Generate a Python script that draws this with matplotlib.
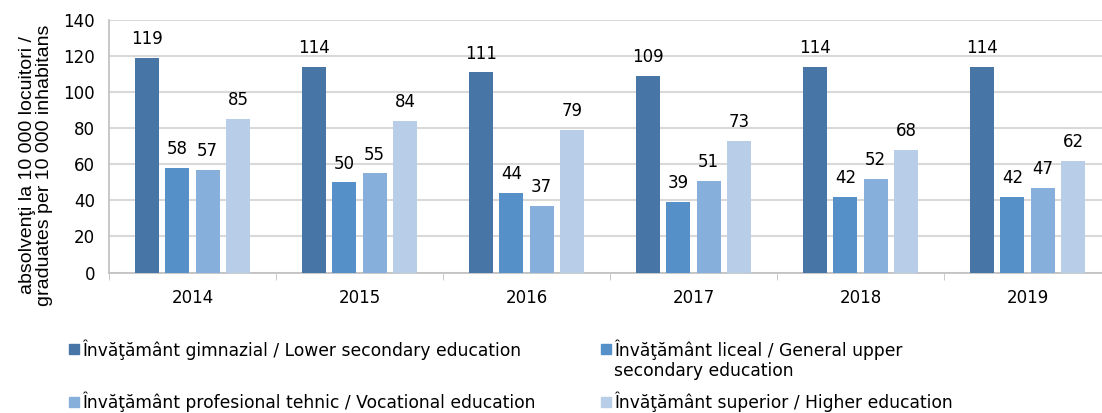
import numpy as np
import matplotlib.pyplot as plt
from matplotlib.patches import Rectangle

plt.rcParams['font.family'] = ['DejaVu Sans']

years = ['2014', '2015', '2016', '2017', '2018', '2019']
gimnazial = [119, 114, 111, 109, 114, 114]
liceal = [58, 50, 44, 39, 42, 42]
profesional = [57, 55, 37, 51, 52, 47]
superior = [85, 84, 79, 73, 68, 62]

series = [gimnazial, liceal, profesional, superior]
labels = ['Învăţământ gimnazial / Lower secondary education',
          'Învăţământ liceal / General upper\nsecondary education',
          'Învăţământ profesional tehnic / Vocational education',
          'Învăţământ superior / Higher education']
colors = ['#4776A6', '#5690C9', '#86AFDC', '#B8CDE8']

W, H = 1102, 413
fig = plt.figure(figsize=(W / 100, H / 100), dpi=100)
ax = fig.add_axes([109 / W, 1 - 272.5 / H, 1002 / W, 252.5 / H])

x = np.arange(len(years))
step = 0.1815
width = 0.144
for i, (vals, c) in enumerate(zip(series, colors)):
    pos = x + (i - 1.5) * step
    bars = ax.bar(pos, vals, width, color=c, zorder=3)
    for b, v in zip(bars, vals):
        ax.annotate(str(v), (b.get_x() + b.get_width() / 2, v),
                    xytext=(0, 7), textcoords='offset points',
                    ha='center', va='bottom', fontsize=12)

ax.set_xlim(-0.5, len(years) - 0.5)
ax.set_ylim(0, 140)
ax.set_yticks(range(0, 141, 20))
ax.yaxis.grid(True, color='#D9D9D9', linewidth=1.5, zorder=0)
ax.set_xticks(x)
ax.set_xticklabels(years)
ax.set_xticks(np.arange(-0.5, len(years), 1), minor=True)
ax.tick_params(axis='x', which='major', length=0, pad=12, labelsize=12)
ax.tick_params(axis='x', which='minor', length=5, color='#BFBFBF')
ax.tick_params(axis='y', length=0, pad=10, labelsize=12)
for s in ['top', 'right']:
    ax.spines[s].set_visible(False)
for s in ['left', 'bottom']:
    ax.spines[s].set_color('#BFBFBF')
    ax.spines[s].set_linewidth(1.2)

fig.text(36 / W, 1 - 165 / H,
         'absolvenţi la 10 000 locuitori /\ngraduates per 10 000 inhabitans',
         rotation=90, ha='center', va='center', fontsize=14, linespacing=0.95,
         family='Liberation Sans')

# legend drawn by hand to keep Excel-like layout
slots = [(69, 349), (601, 349), (69, 402), (601, 402)]
for (sx, sy), lab, c in zip(slots, labels, colors):
    fig.patches.append(Rectangle((sx / W, 1 - (sy + 5) / H), 10 / W, 10 / H,
                                 transform=fig.transFigure, color=c))
    fig.text((sx + 13) / W, 1 - (sy - 10) / H, lab, ha='left', va='top',
             fontsize=12.3, linespacing=1.15)

fig.savefig('out.png', dpi=100)
